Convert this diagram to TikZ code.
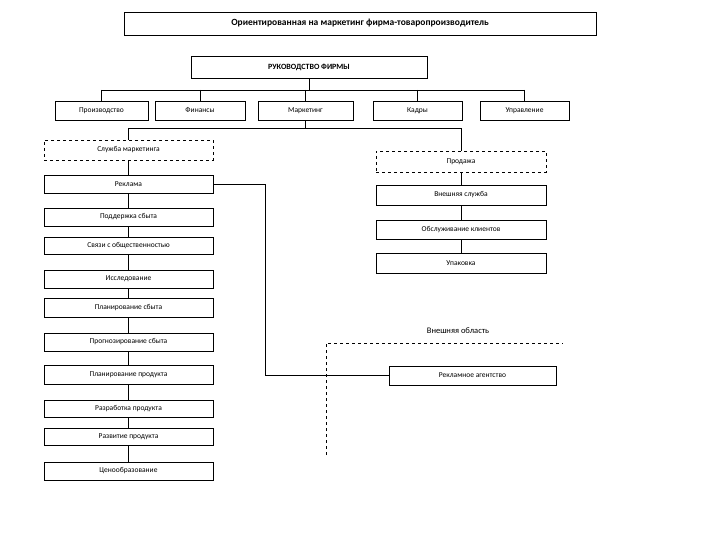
\documentclass[tikz,border=0pt]{standalone}
\usepackage{fontspec}
\setmainfont{Carlito}
\begin{document}
\begin{tikzpicture}[x=1pt,y=-1pt,
    every node/.append style={font=\fontsize{7.5}{8}\selectfont},
    box/.style={draw,semithick,inner sep=0pt,minimum height=18pt},
    lbox/.style={box,minimum width=169pt},
    dbox/.style={lbox,dashed}]
    \useasboundingbox (0,0) rectangle (720,540);

    \node[box,minimum width=472pt,minimum height=23pt,font=\fontsize{9.5}{10}\selectfont\bfseries] (title) at (360,23.5) {Ориентированная на маркетинг фирма-товаропроизводитель};
    \node[box,minimum width=236pt,minimum height=22pt,font=\fontsize{8}{9}\selectfont\bfseries] (head) at (309,67) {РУКОВОДСТВО ФИРМЫ};

    \node[box,minimum width=93pt,minimum height=19pt] (prod) at (101.5,110.5) {Производство};
    \node[box,minimum width=90pt,minimum height=19pt] (fin) at (200,110.5) {Финансы};
    \node[box,minimum width=95pt,minimum height=19pt] (mark) at (305.5,110.5) {Маркетинг};
    \node[box,minimum width=89pt,minimum height=19pt] (kadr) at (417.5,110.5) {Кадры};
    \node[box,minimum width=89pt,minimum height=19pt] (upr) at (524.5,110.5) {Управление};

    % left column
    \node[dbox,minimum height=20pt] (sluzh) at (128.5,150) {Служба маркетинга};
    \node[lbox] (rekl) at (128.5,184) {Реклама};
    \node[lbox] (podd) at (128.5,217) {Поддержка сбыта};
    \node[lbox,minimum height=17pt] (svyaz) at (128.5,245.5) {Связи с общественностью};
    \node[lbox] (issl) at (128.5,279) {Исследование};
    \node[lbox,minimum height=19pt] (plsb) at (128.5,307.5) {Планирование сбыта};
    \node[lbox] (prog) at (128.5,342) {Прогнозирование сбыта};
    \node[lbox,minimum height=19pt] (plpr) at (128.5,374.5) {Планирование продукта};
    \node[lbox,minimum height=17pt] (razr) at (128.5,408.5) {Разработка продукта};
    \node[lbox,minimum height=17pt] (razv) at (128.5,436.5) {Развитие продукта};
    \node[lbox] (cen) at (128.5,471) {Ценообразование};

    % right column
    \node[dbox,minimum width=170pt,minimum height=21pt] (sale) at (461,161.5) {Продажа};
    \node[lbox,minimum width=170pt,minimum height=20pt] (vnesh) at (461,195) {Внешняя служба};
    \node[lbox,minimum width=170pt,minimum height=19pt] (obsl) at (461,229.5) {Обслуживание клиентов};
    \node[lbox,minimum width=170pt,minimum height=20pt] (upak) at (461,263) {Упаковка};

    \node[lbox,minimum width=167pt,minimum height=19pt] (agent) at (472.5,375.5) {Рекламное агентство};
    \node[font=\fontsize{8.5}{9}\selectfont] (area) at (458,331) {Внешняя область};

    \coordinate (bus) at (0,90);
    \coordinate (mbus) at (0,128);
    \coordinate (agx) at (265,0);

    \draw[semithick] (head) -- (head|-bus);
    \draw[semithick] (prod|-bus) -- (upr|-bus);
    \foreach \n in {prod,fin,mark,kadr,upr}
        \draw[semithick] (\n|-bus) -- (\n);
    \draw[semithick] (mark) -- (mark|-mbus);
    \draw[semithick] (sluzh) -- (sluzh|-mbus) -- (sale|-mbus) -- (sale);
    \foreach \a/\b in {sluzh/rekl,rekl/podd,podd/svyaz,svyaz/issl,issl/plsb,plsb/prog,prog/plpr,plpr/razr,razr/razv,razv/cen,sale/vnesh,vnesh/obsl,obsl/upak}
        \draw[semithick] (\a) -- (\b);
    \draw[semithick] (rekl.east) -| (agx|-agent) -- (agent.west);

    \draw[semithick,dashed] (326,455) -- (326,343) -- (563,343);
\end{tikzpicture}
\end{document}
